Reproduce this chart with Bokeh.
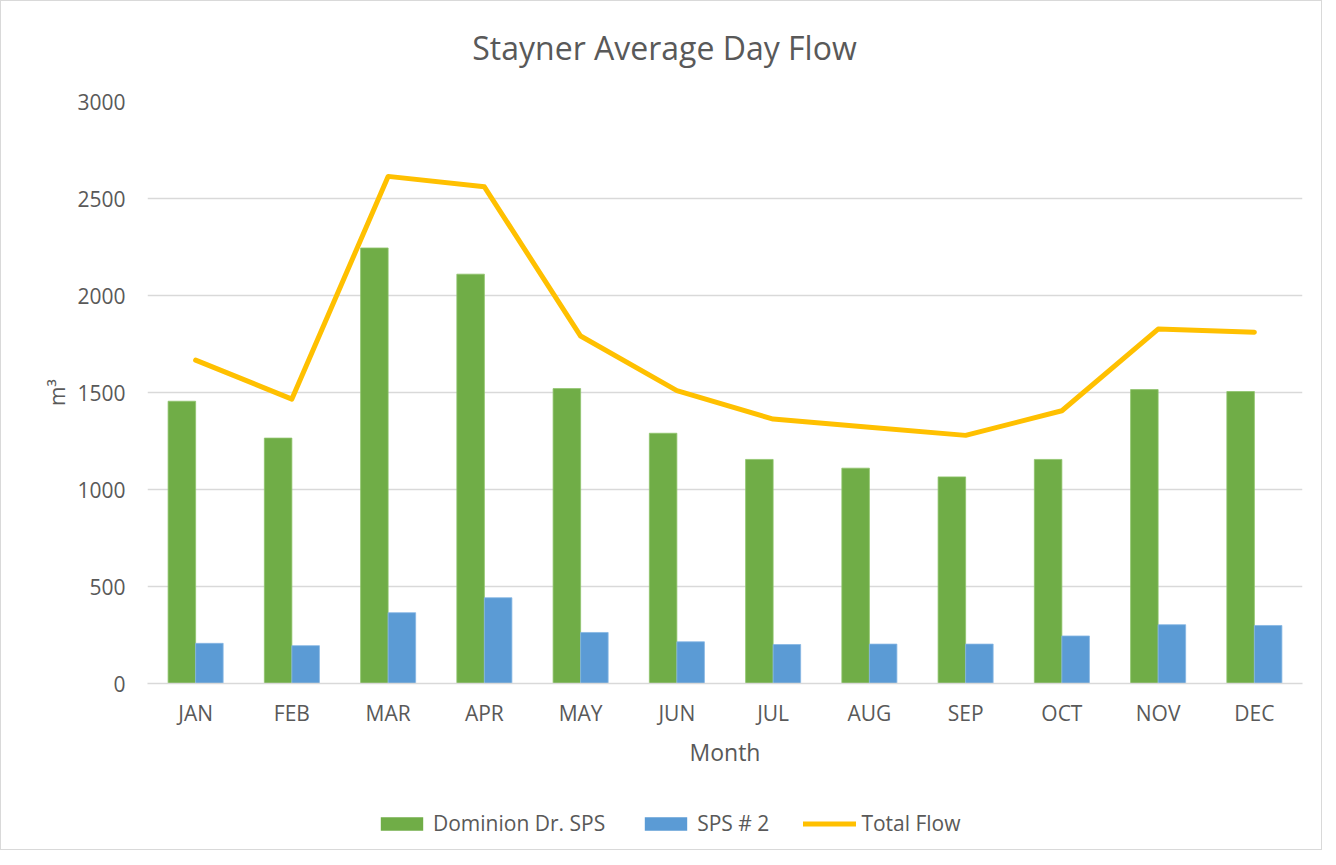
from bokeh.plotting import figure
from bokeh.layouts import column
from bokeh.models import FactorRange, Range1d, FixedTicker, Legend, LegendItem, ColumnDataSource, Label
from bokeh.transform import dodge
from bokeh.embed import file_html
from bokeh.resources import INLINE

months = ["JAN", "FEB", "MAR", "APR", "MAY", "JUN", "JUL", "AUG", "SEP", "OCT", "NOV", "DEC"]
dominion = [1455, 1265, 2245, 2110, 1520, 1290, 1155, 1110, 1065, 1155, 1515, 1505]
sps2 = [207, 195, 365, 442, 263, 215, 201, 203, 203, 245, 303, 299]
total = [1667, 1466, 2614, 2560, 1791, 1510, 1363, 1321, 1279, 1406, 1827, 1811]
y_ticks = [0, 500, 1000, 1500, 2000, 2500, 3000]
series_names = ["Dominion Dr. SPS", "SPS # 2", "Total Flow"]
chart_title = "Stayner Average Day Flow"

FONT = "Open Sans"
TXT = "#595959"
GRID = "#d9d9d9"
GREEN, BLUE, GOLD = "#70AD47", "#5B9BD5", "#FFC000"
W = 1320

src = ColumnDataSource(dict(month=months, dom=dominion, sps=sps2, total=total))

# ---- title strip ----
t = figure(width=W, height=74, output_backend="svg", toolbar_location=None,
           x_range=Range1d(0, 1155), y_range=Range1d(0, 74), x_axis_type=None, y_axis_type=None,
           min_border=0)
t.outline_line_color = None
t.grid.grid_line_color = None
t.background_fill_color = "white"
t.border_fill_color = "white"
t.add_layout(Label(x=517, y=28, text=chart_title, text_align="center", text_baseline="middle",
                   text_font=FONT, text_font_size="32px", text_color=TXT))

# ---- main chart ----
p = figure(width=W, height=724, output_backend="svg", toolbar_location=None,
           x_range=FactorRange(factors=months), y_range=Range1d(0, 3000),
           min_border_left=146, min_border_right=19, min_border_top=26, min_border_bottom=116)
p.outline_line_color = None
p.background_fill_color = "white"
p.border_fill_color = "white"

bw = 0.286
p.vbar(x=dodge("month", -bw / 2, range=p.x_range), top="dom", width=bw, source=src,
       fill_color=GREEN, line_color="#8fc46c", line_width=0.8)
p.vbar(x=dodge("month", bw / 2, range=p.x_range), top="sps", width=bw, source=src,
       fill_color=BLUE, line_color="#85b6e3", line_width=0.8)
p.line(x="month", y="total", source=src, line_color=GOLD, line_width=5,
       line_join="round", line_cap="round")

p.xgrid.grid_line_color = None
p.ygrid.grid_line_color = GRID
p.ygrid.grid_line_width = 1.5
p.yaxis.ticker = FixedTicker(ticks=y_ticks)
p.yaxis.axis_line_color = None
p.yaxis.major_tick_line_color = None
p.yaxis.minor_tick_line_color = None
p.yaxis.major_label_standoff = 16
p.yaxis.major_label_text_font = FONT
p.yaxis.major_label_text_font_size = "21px"
p.yaxis.major_label_text_color = TXT
p.yaxis.axis_label = "m³"
p.yaxis.axis_label_text_font = FONT
p.yaxis.axis_label_text_font_size = "21px"
p.yaxis.axis_label_text_font_style = "normal"
p.yaxis.axis_label_text_color = TXT
p.yaxis.axis_label_standoff = 3

p.xaxis.axis_line_color = GRID
p.xaxis.axis_line_width = 1.5
p.xaxis.major_tick_line_color = None
p.xaxis.minor_tick_line_color = None
p.xaxis.major_label_standoff = 9
p.xaxis.major_label_text_font = FONT
p.xaxis.major_label_text_font_size = "21px"
p.xaxis.major_label_text_color = TXT
p.xaxis.axis_label = "Month"
p.xaxis.axis_label_text_font = FONT
p.xaxis.axis_label_text_font_size = "23px"
p.xaxis.axis_label_text_font_style = "normal"
p.xaxis.axis_label_text_color = TXT
p.xaxis.axis_label_standoff = 6

# ---- legend strip (proxies drawn from the same data, outside the visible range) ----
q = figure(width=W, height=50, output_backend="svg", toolbar_location=None,
           x_range=FactorRange(factors=months), y_range=Range1d(5000, 6000),
           x_axis_type=None, y_axis_type=None, min_border=0)
q.outline_line_color = None
q.grid.grid_line_color = None
q.background_fill_color = "white"
q.border_fill_color = "white"
g1 = q.vbar(x="month", top="dom", width=0.1, source=src, fill_color=GREEN, line_color=None)
g2 = q.vbar(x="month", top="sps", width=0.1, source=src, fill_color=BLUE, line_color=None)
g3 = q.line(x="month", y="total", source=src, line_color=GOLD, line_width=5, line_cap="round")

legend = Legend(items=[LegendItem(label=series_names[0], renderers=[g1]),
                       LegendItem(label=series_names[1], renderers=[g2]),
                       LegendItem(label=series_names[2], renderers=[g3])],
                orientation="horizontal", location=(228, 12),
                padding=0, margin=0, spacing=34, glyph_width=53, glyph_height=17,
                label_standoff=5, label_text_font=FONT, label_text_font_size="21px",
                label_text_color=TXT, border_line_color=None, background_fill_alpha=0)
q.add_layout(legend, "center")

layout = column(t, p, q, spacing=0)
layout.styles = {"border": "1px solid #d9d9d9", "box-sizing": "border-box"}

open("out.html", "w").write(file_html(layout, INLINE))
